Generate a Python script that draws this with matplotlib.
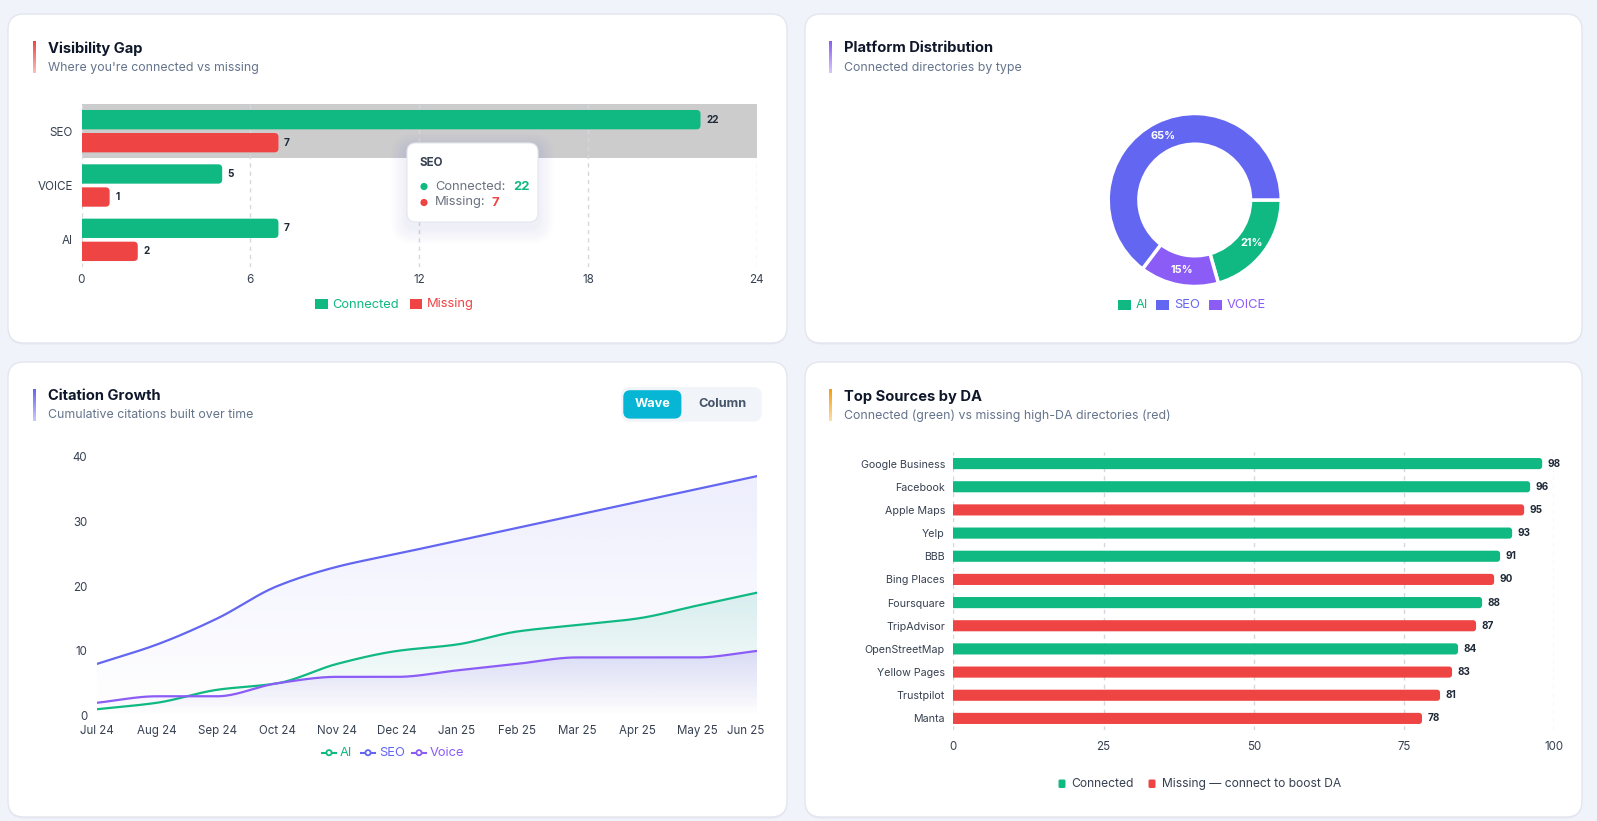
import numpy as np
import matplotlib
matplotlib.use("Agg")
import matplotlib.pyplot as plt
from matplotlib.patches import FancyBboxPatch, Rectangle, Circle
from matplotlib.lines import Line2D
from matplotlib.colors import to_rgb
from matplotlib.transforms import ScaledTranslation

plt.rcParams['font.family'] = ['Inter', 'DejaVu Sans']

W, H = 1597, 821

# ---- data ----
gap_cats = ["SEO", "VOICE", "AI"]
gap_connected = [22, 5, 7]
gap_missing = [7, 1, 2]

dist_labels = ["AI", "SEO", "VOICE"]
dist_values = [7, 22, 5]

months = ["Jul 24", "Aug 24", "Sep 24", "Oct 24", "Nov 24", "Dec 24",
          "Jan 25", "Feb 25", "Mar 25", "Apr 25", "May 25", "Jun 25"]
ai_cum = [1, 2, 4, 5, 8, 10, 11, 13, 14, 15, 17, 19]
seo_cum = [8, 11, 15, 20, 23, 25, 27, 29, 31, 33, 35, 37]
voice_cum = [2, 3, 3, 5, 6, 6, 7, 8, 9, 9, 9, 10]

src_names = ["Google Business", "Facebook", "Apple Maps", "Yelp", "BBB", "Bing Places",
             "Foursquare", "TripAdvisor", "OpenStreetMap", "Yellow Pages", "Trustpilot", "Manta"]
src_da = [98, 96, 95, 93, 91, 90, 88, 87, 84, 83, 81, 78]
src_connected = [True, True, False, True, True, False, True, False, True, False, False, False]

GREEN = "#10b981"
RED = "#ef4444"
INDIGO = "#6366f1"
VIOLET = "#8b5cf6"
CYAN = "#06b6d4"
AMBER = "#f59e0b"
DARK = "#0f172a"
SUB = "#64748b"
TICK = "#374151"

fig = plt.figure(figsize=(W / 100, H / 100), dpi=100)
fig.patch.set_facecolor("#f1f3fa")


def overlay(z):
    a = fig.add_axes([0, 0, 1, 1], zorder=z)
    a.set_xlim(0, W)
    a.set_ylim(H, 0)
    a.axis("off")
    a.patch.set_alpha(0)
    return a


def px_axes(x0, y0, x1, y1):
    a = fig.add_axes([x0 / W, 1 - y1 / H, (x1 - x0) / W, (y1 - y0) / H], zorder=2)
    a.patch.set_alpha(0)
    return a


bg = overlay(0)
top = overlay(10)

# cards
for (x0, y0, x1, y1) in [(8, 14, 787, 343), (805, 14, 1582, 343),
                         (8, 362, 787, 817), (805, 362, 1582, 817)]:
    bg.add_patch(FancyBboxPatch((x0, y0 + 1.5), x1 - x0, y1 - y0, boxstyle="round,pad=0,rounding_size=16",
                                fc="#e6e9f3", ec="none"))
    bg.add_patch(FancyBboxPatch((x0, y0), x1 - x0, y1 - y0, boxstyle="round,pad=0,rounding_size=16",
                                fc="white", ec="#e3e6ef", lw=1))


def header(xb, yb, title, sub, color):
    rgb = np.array(to_rgb(color))
    n = 32
    for i in range(n):
        f = i / (n - 1)
        c = rgb * (1 - 0.65 * f) + np.ones(3) * 0.65 * f
        bg.add_patch(Rectangle((xb, yb + i), 3, 1.05, fc=c, ec="none"))
    bg.text(xb + 15, yb + 7.5, title, fontsize=10.6, fontweight="bold", color=DARK, va="center", ha="left")
    bg.text(xb + 15, yb + 26.5, sub, fontsize=8.9, color=SUB, va="center", ha="left")


header(32.6, 41, "Visibility Gap", "Where you're connected vs missing", RED)
header(829, 41, "Platform Distribution", "Connected directories by type", VIOLET)
header(32.6, 389, "Citation Growth", "Cumulative citations built over time", INDIGO)
header(829, 389, "Top Sources by DA", "Connected (green) vs missing high-DA directories (red)", AMBER)


def round_hbar(ax, y, v, h, color, r_px, xpp, ypp):
    r = r_px * xpp
    ax.add_patch(FancyBboxPatch((-r, y - h / 2), v + r, h,
                                boxstyle=f"round,pad=0,rounding_size={r}",
                                mutation_aspect=ypp / xpp, fc=color, ec="none", zorder=3))


# ---- Visibility Gap ----
ax1 = px_axes(81.5, 104, 756.8, 267)
ax1.set_xlim(0, 24)
ax1.set_ylim(-0.5, 2.5)
xpp = 24 / (756.8 - 81.5)
ypp = 3 / (267 - 104)
ypos = np.arange(len(gap_cats))[::-1]
ax1.axhspan(ypos[0] - 0.5, ypos[0] + 0.5, color="#cccccc", zorder=0.4, lw=0)
for y, c, m in zip(ypos, gap_connected, gap_missing):
    round_hbar(ax1, y + 0.212, c, 0.356, GREEN, 4, xpp, ypp)
    round_hbar(ax1, y - 0.212, m, 0.356, RED, 4, xpp, ypp)
    ax1.annotate(str(c), (c, y + 0.212), xytext=(4, 0), textcoords="offset points",
                 ha="left", va="center", fontsize=7.2, fontweight="bold", color="#1f2937")
    ax1.annotate(str(m), (m, y - 0.212), xytext=(4, 0), textcoords="offset points",
                 ha="left", va="center", fontsize=7.2, fontweight="bold", color="#1f2937")
ax1.set_xticks([0, 6, 12, 18, 24])
ax1.set_yticks(ypos)
ax1.set_yticklabels(gap_cats)
ax1.set_axisbelow(True)
ax1.grid(axis="x", ls=(0, (3, 3)), color="#d4d7de", lw=1)
for s in ax1.spines.values():
    s.set_visible(False)
ax1.tick_params(length=0, labelsize=8.4, colors=TICK)
ax1.tick_params(axis="x", pad=5)
ax1.tick_params(axis="y", pad=6)

# legend
for (sx, tx, label, col) in [(315, 332, "Connected", GREEN), (409.5, 427, "Missing", RED)]:
    bg.add_patch(Rectangle((sx, 299.5), 12.5, 10, fc=col, ec="none"))
    bg.text(tx, 304.5, label, fontsize=9.3, color=col, va="center", ha="left")

# tooltip
for k in range(8, 0, -1):
    top.add_patch(FancyBboxPatch((407 - k * 2, 143 - k * 2 + 6), 131 + k * 4, 79 + k * 4,
                                 boxstyle=f"round,pad=0,rounding_size={8 + k * 2}",
                                 fc="#6366f1", ec="none", alpha=0.012))
top.add_patch(FancyBboxPatch((407, 143), 131, 79, boxstyle="round,pad=0,rounding_size=9",
                             fc="white", ec="#e5e7eb", lw=0.8))
top.text(420, 162.5, "SEO", fontsize=8.3, fontweight="bold", color="#374151", va="center")
top.add_patch(Circle((424, 186.5), 3.6, fc=GREEN, ec="none"))
top.add_patch(Circle((424, 202.5), 3.6, fc=RED, ec="none"))
top.text(435, 186.5, "Connected:", fontsize=9.3, color="#6b7280", va="center")
top.text(513, 186.5, str(gap_connected[0]), fontsize=9.3, color=GREEN, fontweight="bold", va="center")
top.text(435, 202.5, "Missing:", fontsize=9.3, color="#6b7280", va="center")
top.text(492, 202.5, str(gap_missing[0]), fontsize=9.3, color=RED, fontweight="bold", va="center")

# ---- Platform Distribution ----
cx, cy, R = 1194.7, 200, 86.5
ax2 = px_axes(cx - R, cy - R, cx + R, cy + R)
ax2.pie(dist_values, colors=[GREEN, INDIGO, VIOLET], startangle=-360 * dist_values[0] / sum(dist_values),
        counterclock=True, radius=1,
        wedgeprops=dict(width=0.355, edgecolor="white", linewidth=2.5),
        autopct=lambda p: f"{p:.0f}%", pctdistance=0.825,
        textprops=dict(color="white", fontsize=7.8, fontweight="bold"))
ax2.set_xlim(-1, 1)
ax2.set_ylim(-1, 1)
for (sx, tx, label, col) in [(1118, 1136, "AI", GREEN), (1156, 1174, "SEO", INDIGO),
                             (1209, 1227, "VOICE", VIOLET)]:
    bg.add_patch(Rectangle((sx, 300), 13, 10, fc=col, ec="none"))
    bg.text(tx, 305, label, fontsize=9.3, color=col, va="center", ha="left")


# ---- Citation Growth ----
def pchip(y, per=30):
    y = np.asarray(y, float)
    n = len(y)
    d = np.diff(y)
    m = np.zeros(n)
    m[0], m[-1] = d[0], d[-1]
    for k in range(1, n - 1):
        if d[k - 1] * d[k] > 0:
            m[k] = 2 * d[k - 1] * d[k] / (d[k - 1] + d[k])
    xs, ys = [], []
    t = np.linspace(0, 1, per, endpoint=False)
    for k in range(n - 1):
        h00 = 2 * t ** 3 - 3 * t ** 2 + 1
        h10 = t ** 3 - 2 * t ** 2 + t
        h01 = -2 * t ** 3 + 3 * t ** 2
        h11 = t ** 3 - t ** 2
        xs.append(k + t)
        ys.append(h00 * y[k] + h10 * m[k] + h01 * y[k + 1] + h11 * m[k + 1])
    xs.append([n - 1])
    ys.append([y[-1]])
    return np.concatenate(xs), np.concatenate(ys)


ax3 = px_axes(97, 456.7, 757, 715.7)
series = [(ai_cum, GREEN, 0.13), (seo_cum, INDIGO, 0.11), (voice_cum, VIOLET, 0.17)]
for vals, col, a_top in series:
    xs, ys = pchip(vals)
    poly = ax3.fill_between(xs, ys, 0, color="none", lw=0)
    grad = np.zeros((100, 1, 4))
    grad[..., :3] = to_rgb(col)
    grad[:, 0, 3] = np.linspace(0.0, a_top, 100)
    im = ax3.imshow(grad, extent=[xs[0], xs[-1], 0, max(vals)], origin="lower", aspect="auto", zorder=1)
    im.set_clip_path(poly.get_paths()[0], transform=ax3.transData)
for vals, col, _ in series:
    xs, ys = pchip(vals)
    ax3.plot(xs, ys, color=col, lw=1.6, zorder=3, solid_capstyle="round")
ax3.set_xlim(0, len(months) - 1)
ax3.set_ylim(0, 40)
ax3.set_yticks([0, 10, 20, 30, 40])
ax3.set_xticks(range(len(months)))
ax3.set_xticklabels(months)
for s in ax3.spines.values():
    s.set_visible(False)
ax3.tick_params(length=0, labelsize=8.3, colors="#374151")
ax3.tick_params(axis="x", pad=7)
ax3.tick_params(axis="y", pad=7)
last = ax3.get_xticklabels()[-1]
last.set_ha("right")
last.set_transform(last.get_transform() + ScaledTranslation(0.07, 0, fig.dpi_scale_trans))

for (mx, tx, label, col) in [(329, 340, "AI", GREEN), (368, 379, "SEO", INDIGO), (419, 430, "Voice", VIOLET)]:
    top.add_line(Line2D([mx - 7, mx + 7], [752.7, 752.7], color=col, lw=1.5))
    top.add_patch(Circle((mx, 752.7), 2.6, fc="white", ec=col, lw=1.3, zorder=5))
    top.text(tx, 752.7, label, fontsize=9.3, color=col, va="center", ha="left")

# toggle
bg.add_patch(FancyBboxPatch((621.3, 387), 140.5, 34.7, boxstyle="round,pad=0,rounding_size=9",
                            fc="#f1f4f9", ec="none"))
bg.add_patch(FancyBboxPatch((623.3, 390.2), 58.1, 28.4, boxstyle="round,pad=0,rounding_size=7",
                            fc=CYAN, ec="none"))
bg.text(652.3, 404.4, "Wave", fontsize=9.2, fontweight="bold", color="white", ha="center", va="center")
bg.text(722, 404.4, "Column", fontsize=9.2, fontweight="bold", color="#475569", ha="center", va="center")

# ---- Top Sources by DA ----
ax4 = px_axes(953.3, 452, 1554.2, 730)
n = len(src_names)
ax4.set_xlim(0, 100)
ax4.set_ylim(-0.5, n - 0.5)
xpp4 = 100 / (1554.2 - 953.3)
ypp4 = n / (730 - 452)
yy = np.arange(n)[::-1]
for y, v, ok in zip(yy, src_da, src_connected):
    round_hbar(ax4, y, v, 0.48, GREEN if ok else RED, 3, xpp4, ypp4)
    ax4.annotate(str(v), (v, y), xytext=(4, 0), textcoords="offset points",
                 ha="left", va="center", fontsize=7.2, fontweight="bold", color="#1f2937")
ax4.set_xticks([0, 25, 50, 75, 100])
ax4.set_yticks(yy)
ax4.set_yticklabels(src_names)
ax4.set_axisbelow(True)
ax4.grid(axis="x", ls=(0, (3, 3)), color="#d4d7de", lw=1)
for s in ax4.spines.values():
    s.set_visible(False)
ax4.tick_params(length=0, labelsize=7.7, colors="#374151")
ax4.tick_params(axis="x", pad=8, labelsize=8.3)
ax4.tick_params(axis="y", pad=6)

for (sx, tx, label, col) in [(1058.5, 1071, "Connected", GREEN),
                             (1148.5, 1161.5, "Missing \u2014 connect to boost DA", RED)]:
    bg.add_patch(FancyBboxPatch((sx, 779.5), 7, 8.5, boxstyle="round,pad=0,rounding_size=1.5",
                                fc=col, ec="none"))
    bg.text(tx, 784, label, fontsize=8.7, color="#374151", va="center", ha="left")

fig.savefig("out.png", dpi=100, facecolor=fig.get_facecolor())
